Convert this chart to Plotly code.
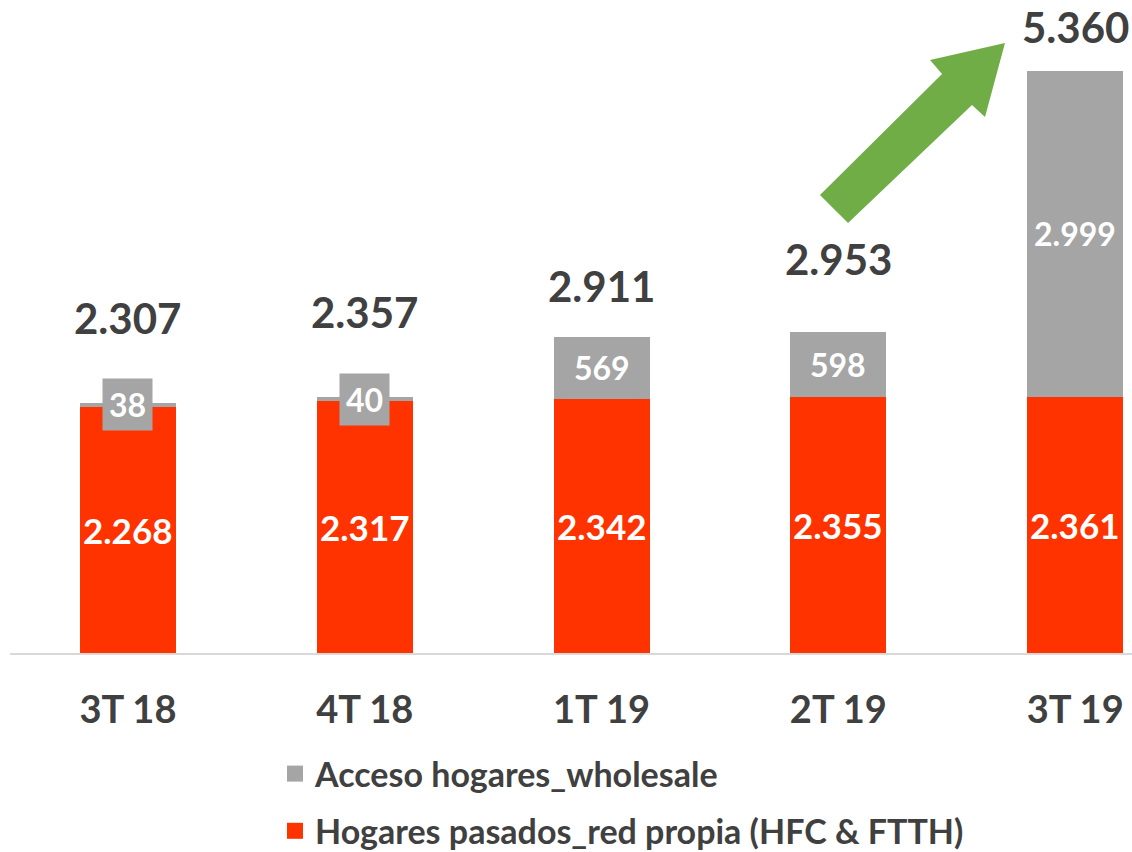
import plotly.graph_objects as go

categories = ["3T 18", "4T 18", "1T 19", "2T 19", "3T 19"]
red_propia = [2268, 2317, 2342, 2355, 2361]
wholesale = [38, 40, 569, 598, 2999]
totals = [2307, 2357, 2911, 2953, 5360]
red_labels = ["2.268", "2.317", "2.342", "2.355", "2.361"]
gray_labels = ["38", "40", "569", "598", "2.999"]
total_labels = ["2.307", "2.357", "2.911", "2.953", "5.360"]
series_names = ["Acceso hogares_wholesale", "Hogares pasados_red propia (HFC & FTTH)"]

RED = "#ff3300"
GRAY = "#a5a5a5"
DARK = "#404040"
GREEN = "#70ad47"
FONT = "Lato"

W, H = 1132, 852
L, R, T, B = 10, 0, 0, 199
PW, PH = W - L - R, H - T - B

fig = go.Figure()
fig.add_trace(go.Bar(x=categories, y=red_propia, name=series_names[1],
                     marker=dict(color=RED, line=dict(width=0)), width=0.405,
                     showlegend=False, hoverinfo="skip"))
fig.add_trace(go.Bar(x=categories, y=wholesale, name=series_names[0],
                     marker=dict(color=GRAY, line=dict(width=0)), width=0.405,
                     showlegend=False, hoverinfo="skip"))
# legend entries with larger square markers
for rank, (nm, col) in enumerate([(series_names[0], GRAY), (series_names[1], RED)]):
    fig.add_trace(go.Scatter(x=[None], y=[None], mode="markers", name=nm,
                             marker=dict(symbol="square", size=21, color=col),
                             legendgroup=str(rank), legendrank=rank + 1, hoverinfo="skip"))

annotations = []
total_shift = [57, 58, 24, 46, 17]
for i, c in enumerate(categories):
    annotations.append(dict(x=c, y=red_propia[i] / 2, text=red_labels[i], showarrow=False,
                            font=dict(family=FONT, size=35, color="white", weight="bold")))
    gy = red_propia[i] + wholesale[i] / 2
    annotations.append(dict(x=c, y=gy, text=gray_labels[i], showarrow=False,
                            bgcolor=GRAY, borderpad=6,
                            font=dict(family=FONT, size=32, color="white", weight="bold")))
    annotations.append(dict(x=c, y=totals[i], text=total_labels[i], showarrow=False,
                            yanchor="bottom", yshift=total_shift[i],
                            font=dict(family=FONT, size=42, color=DARK, weight="bold")))


def px(x, y):
    return (x - L) / PW, (T + PH - y) / PH


pts = [(820, 195), (942, 74), (930, 60), (1005, 43), (985, 117), (972, 105), (848, 223)]
path = "M " + " L ".join("%.4f,%.4f" % px(x, y) for x, y in pts) + " Z"

fig.update_layout(
    width=W, height=H,
    margin=dict(l=L, r=R, t=T, b=B, autoexpand=False),
    paper_bgcolor="white", plot_bgcolor="white",
    barmode="stack",
    showlegend=True,
    legend=dict(x=px(275, 0)[0], y=px(0, 745)[1], xanchor="left", yanchor="top",
                traceorder="grouped", tracegroupgap=10, itemsizing="trace",
                font=dict(family=FONT, size=34, color=DARK, weight="bold"),
                itemwidth=30),
    xaxis=dict(range=[-0.498, 4.24], showgrid=False, showline=True, linecolor="#d9d9d9",
               linewidth=2, ticks="", ticklabelstandoff=22,
               tickfont=dict(family=FONT, size=38, color=DARK, weight="bold")),
    yaxis=dict(range=[0, 6013], visible=False),
    annotations=annotations,
    shapes=[dict(type="path", path=path, xref="paper", yref="paper",
                 fillcolor=GREEN, line=dict(width=0))],
)

fig.write_html("out.html", config={"displayModeBar": False},
               post_script="document.body.style.margin='0';")
